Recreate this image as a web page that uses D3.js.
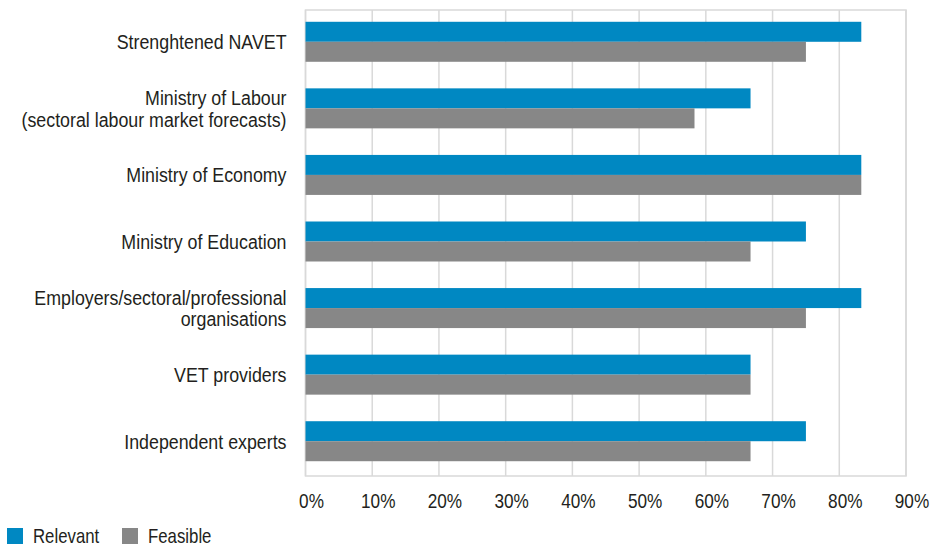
<!DOCTYPE html>
<html>
<head>
<meta charset="utf-8">
<script src="https://cdn.jsdelivr.net/npm/d3@7"></script>
<style>
  html, body { margin: 0; padding: 0; background: #fff; }
  svg text { font-family: "Liberation Sans", Arial, sans-serif; fill: #231f20; }
</style>
</head>
<body>
<svg id="chart" width="932" height="544"></svg>
<script>
// Categories (each entry is one or more label lines)
const categories = [
  ["Strenghtened NAVET"],
  ["Ministry of Labour", "(sectoral labour market forecasts)"],
  ["Ministry of Economy"],
  ["Ministry of Education"],
  ["Employers/sectoral/professional", "organisations"],
  ["VET providers"],
  ["Independent experts"]
];
const seriesNames = ["Relevant", "Feasible"];
const relevant = [83.3, 66.7, 83.3, 75.0, 83.3, 66.7, 75.0];
const feasible = [75.0, 58.3, 83.3, 66.7, 75.0, 66.7, 66.7];
const tickValues = [0, 10, 20, 30, 40, 50, 60, 70, 80, 90];
const colors = ["#0088c2", "#878787"];

const svg = d3.select("#chart");
const margin = { left: 305.5, right: 26, top: 10, bottom: 68 };
const W = 932, H = 544;
const innerW = W - margin.left - margin.right;
const innerH = H - margin.top - margin.bottom;
const fs = 20;            // label font size
const narrowCat = 0.89;   // horizontal squeeze for a condensed look
const narrowTick = 0.86;
const narrowLegend = 0.84;
const lineH = 21.7;

const g = svg.append("g").attr("transform", `translate(${margin.left},${margin.top})`);

const x = d3.scaleLinear().domain([0, 90]).range([0, innerW]);
const y = d3.scaleBand().domain(d3.range(categories.length)).range([0, innerH]);
const barH = 20;

// Gridlines
g.selectAll("line.grid").data(tickValues).join("line")
  .attr("class", "grid")
  .attr("x1", d => x(d)).attr("x2", d => x(d))
  .attr("y1", 0).attr("y2", innerH)
  .attr("stroke", "#d9d9d9").attr("stroke-width", 1.5);

// Plot frame
g.append("rect").attr("x", 0).attr("y", 0).attr("width", innerW).attr("height", innerH)
  .attr("fill", "none").attr("stroke", "#d9d9d9").attr("stroke-width", 1.5);

// Bars
const seriesData = [relevant, feasible];
seriesData.forEach((vals, si) => {
  g.selectAll(`rect.s${si}`).data(vals).join("rect")
    .attr("class", `s${si}`)
    .attr("x", x(0))
    .attr("y", (d, i) => y(i) + y.bandwidth() / 2 - barH - 1.5 + si * barH)
    .attr("width", d => x(d) - x(0))
    .attr("height", barH)
    .attr("fill", colors[si]);
});

// Category labels
categories.forEach((lines, i) => {
  const cy = y(i) + y.bandwidth() / 2 - 1;
  const t = g.append("g")
    .attr("transform", `translate(-19,0) scale(${narrowCat},1)`)
    .append("text")
    .attr("text-anchor", "end")
    .attr("font-size", fs);
  lines.forEach((ln, k) => {
    t.append("tspan")
      .attr("x", 0)
      .attr("y", cy + (k - (lines.length - 1) / 2) * lineH)
      .attr("dy", "0.35em")
      .text(ln);
  });
});

// X axis tick labels
const xAxis = d3.axisBottom(x).tickValues(tickValues).tickFormat(d => d + "%").tickSize(0).tickPadding(0);
const ax = g.append("g").attr("transform", `translate(5.5,${innerH + 24.5})`).call(xAxis);
ax.select(".domain").remove();
ax.attr("font-family", null);
ax.selectAll(".tick text")
  .attr("font-size", fs).attr("fill", "#231f20").attr("y", 0).attr("dy", "0.35em")
  .attr("transform", `scale(${narrowTick},1)`);

// Legend
const legend = svg.append("g").attr("transform", "translate(7,528)");
const legendX = [0, 115];
seriesNames.forEach((name, i) => {
  const lg = legend.append("g").attr("transform", `translate(${legendX[i]},0)`);
  lg.append("rect").attr("width", 16).attr("height", 16).attr("fill", colors[i]);
  lg.append("g").attr("transform", `translate(26,0) scale(${narrowLegend},1)`)
    .append("text").attr("x", 0).attr("y", 8).attr("dy", "0.35em").attr("font-size", fs).text(name);
});
</script>
</body>
</html>
